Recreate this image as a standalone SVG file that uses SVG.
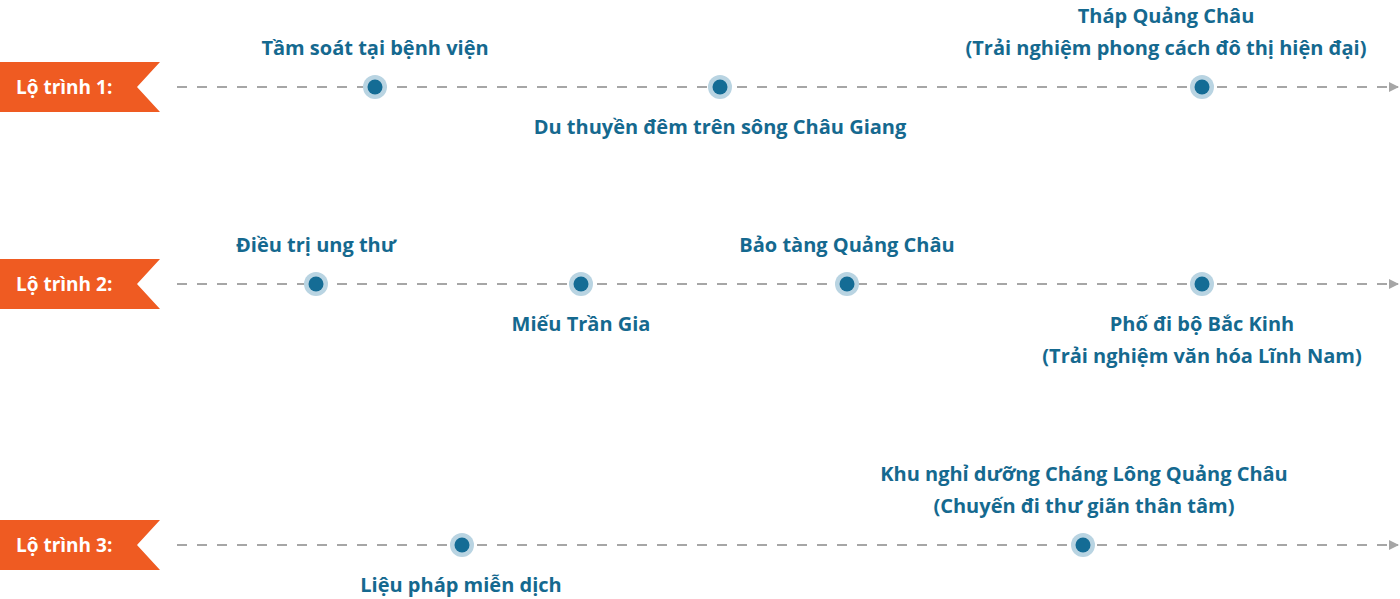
<svg xmlns="http://www.w3.org/2000/svg" width="1400" height="599" viewBox="0 0 1400 599">
<defs>
<style>
.lbl{font-family:"Open Sans","Noto Sans",sans-serif;font-weight:bold;font-size:20px;fill:#15698f;text-anchor:middle}
.bt{font-family:"Open Sans","Noto Sans",sans-serif;font-weight:bold;font-size:19px;fill:#fff}
.ln{stroke:#a6a6a6;stroke-width:2;stroke-dasharray:10 10;fill:none}
.ban{fill:#ef5b22}
.o{fill:#b9d4e2}.i{fill:#146c95}
</style>
<marker id="ar" markerWidth="10" markerHeight="12" refX="9" refY="6" orient="auto" markerUnits="userSpaceOnUse"><path d="M0,1 L10,6 L0,11Z" fill="#a6a6a6"/></marker>
<g id="dot"><circle class="o" r="12"/><circle class="i" r="7.5"/></g>
</defs>
<g id="connectors">
<line class="ln" x1="177" y1="87" x2="1398" y2="87" marker-end="url(#ar)"/>
<line class="ln" x1="177" y1="284" x2="1398" y2="284" marker-end="url(#ar)"/>
<line class="ln" x1="177" y1="545" x2="1398" y2="545" marker-end="url(#ar)"/>
</g>
<g id="r1"><path class="ban" d="M0,62H160L137,87L160,112H0Z"/><text class="bt" x="16" y="94">Lộ trình 1:</text></g>
<g id="r2"><path class="ban" d="M0,259H160L137,284L160,309H0Z"/><text class="bt" x="16" y="291">Lộ trình 2:</text></g>
<g id="r3"><path class="ban" d="M0,520H160L137,545L160,570H0Z"/><text class="bt" x="16" y="552">Lộ trình 3:</text></g>
<g id="n1"><use href="#dot" x="375" y="87"/><text class="lbl" x="375" y="55">Tầm soát tại bệnh viện</text></g>
<g id="n2"><use href="#dot" x="720" y="87"/><text class="lbl" x="720" y="134">Du thuyền đêm trên sông Châu Giang</text></g>
<g id="n3"><use href="#dot" x="1202" y="87"/><text class="lbl" x="1166" y="23">Tháp Quảng Châu</text><text class="lbl" x="1166" y="55">(Trải nghiệm phong cách đô thị hiện đại)</text></g>
<g id="n4"><use href="#dot" x="316" y="284"/><text class="lbl" x="316" y="252">Điều trị ung thư</text></g>
<g id="n5"><use href="#dot" x="581" y="284"/><text class="lbl" x="581" y="331">Miếu Trần Gia</text></g>
<g id="n6"><use href="#dot" x="847" y="284"/><text class="lbl" x="847" y="252">Bảo tàng Quảng Châu</text></g>
<g id="n7"><use href="#dot" x="1202" y="284"/><text class="lbl" x="1202" y="331">Phố đi bộ Bắc Kinh</text><text class="lbl" x="1202" y="363">(Trải nghiệm văn hóa Lĩnh Nam)</text></g>
<g id="n8"><use href="#dot" x="462" y="545"/><text class="lbl" x="461" y="592">Liệu pháp miễn dịch</text></g>
<g id="n9"><use href="#dot" x="1083" y="545"/><text class="lbl" x="1084" y="481">Khu nghỉ dưỡng Cháng Lông Quảng Châu</text><text class="lbl" x="1084" y="513">(Chuyến đi thư giãn thân tâm)</text></g>
</svg>
